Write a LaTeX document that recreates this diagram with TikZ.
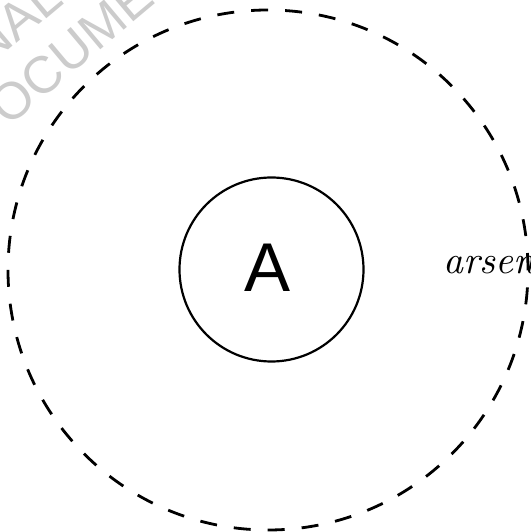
\documentclass[tikz,border=0pt]{standalone}
\usepackage{fontspec}
\newfontfamily\wmfont{Liberation Sans}
\newfontfamily\labfont{Liberation Sans}
\definecolor{wmgray}{RGB}{204,204,204}
\begin{document}
\begin{tikzpicture}[x=1pt,y=1pt,
  outer/.style={draw=black, line width=2.8pt, dash pattern=on 17pt off 17.03pt},
  inner/.style={draw=black, line width=2.2pt, circle, minimum size=184pt, inner sep=0pt},
  wm/.style={text=wmgray, font=\wmfont\fontsize{52}{60}\selectfont, rotate=40, inner sep=0pt},
  lab/.style={font=\labfont\fontsize{69}{80}\selectfont, inner sep=0pt},
  rel/.style={font=\fontsize{10}{12}\selectfont, inner sep=0pt}]
\useasboundingbox (0,0) rectangle (530,532);
\clip (0,0) rectangle (530,532);
\fill[white] (0,0) rectangle (530,532);
% watermark
\node[wm, anchor=base west] (wm2) at (-20.2,380.7) {DOCUMENT};
\node[wm, anchor=base east] (wm1) at (65.4,529.5) {FINAL};
% outer dashed circle
\coordinate (c) at (268,262);
\draw[outer] (c) circle[radius=260];
% inner node
\node[inner] (A) at (271.5,262.5) {};
\node[lab, anchor=base] (Alab) at (267.5,240) {A};
% relation label
\node[rel, anchor=base west] (r) at (443,258) {\scalebox{3.9}{\textit{arsenic}}};
\end{tikzpicture}
\end{document}
